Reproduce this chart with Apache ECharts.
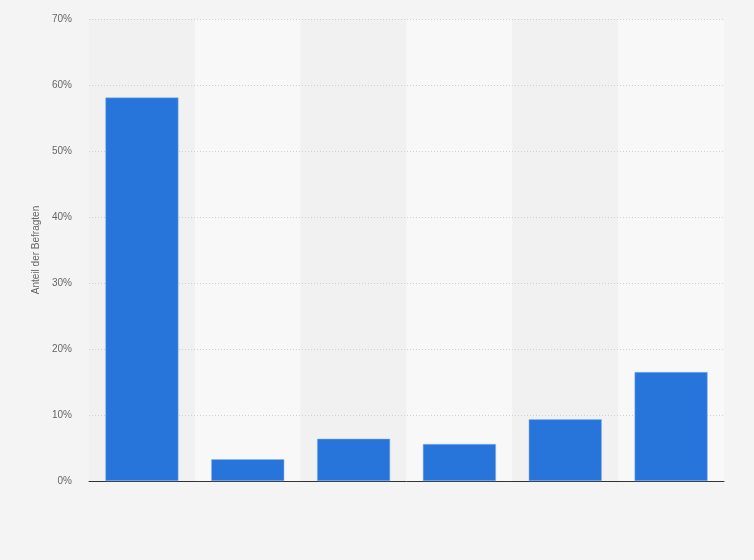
<!DOCTYPE html>
<html>
<head>
<meta charset="utf-8">
<script src="https://cdn.jsdelivr.net/npm/echarts@6/dist/echarts.min.js"></script>
<style>
  html, body { margin: 0; padding: 0; background: #f4f4f4; }
  #chart { width: 754px; height: 560px; }
</style>
</head>
<body>
<div id="chart"></div>
<script>
// Kategorien sind im Bild nicht beschriftet
var categories = ['A', 'B', 'C', 'D', 'E', 'F'];
var shares = [58.1, 3.3, 6.4, 5.6, 9.35, 16.5];
var yTicks = [0, 10, 20, 30, 40, 50, 60, 70];

var myChart = echarts.init(document.getElementById('chart'));

var option = {
    backgroundColor: '#f4f4f4',
    animation: false,
    grid: {
        left: 89,
        right: 30,
        top: 19,
        bottom: 79
    },
    xAxis: {
        type: 'category',
        data: categories,
        z: 0,
        axisLine: { lineStyle: { color: '#333', width: 1 } },
        axisTick: { show: false },
        axisLabel: { show: false },
        splitArea: {
            show: true,
            interval: 0,
            areaStyle: { color: ['#f1f1f1', '#f8f8f8'] }
        }
    },
    yAxis: {
        type: 'value',
        z: 1,
        min: yTicks[0],
        max: yTicks[yTicks.length - 1],
        interval: 10,
        name: 'Anteil der Befragten',
        nameLocation: 'middle',
        nameGap: 48,
        nameTextStyle: { color: '#666', fontSize: 10, fontFamily: 'Liberation Sans' },
        axisLine: { show: false },
        axisTick: { show: false },
        axisLabel: {
            color: '#666',
            fontSize: 10,
            fontFamily: 'Liberation Sans',
            margin: 17,
            formatter: function (v) { return v + '%'; }
        },
        splitLine: {
            showMinLine: false,
            lineStyle: { color: '#d0d0d0', type: [1, 2] }
        }
    },
    series: [{
        type: 'bar',
        data: shares,
        barWidth: '69%',
        z: 3,
        itemStyle: {
            color: '#2775db',
            borderColor: '#8db6ec',
            borderWidth: 0.5
        }
    }]
};

myChart.setOption(option);
</script>
</body>
</html>
